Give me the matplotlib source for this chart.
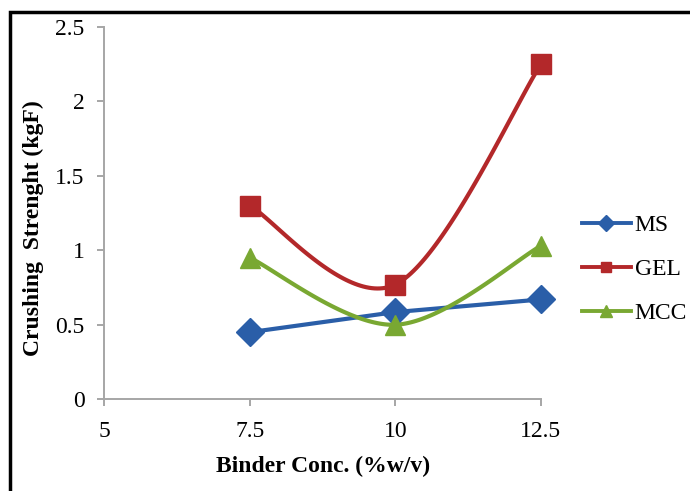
import numpy as np
import matplotlib
matplotlib.use("Agg")
import matplotlib.pyplot as plt
from matplotlib.patches import Rectangle

x_vals = [7.5, 10, 12.5]
ms = [0.45, 0.585, 0.67]
gel = [1.30, 0.77, 2.25]
mcc = [0.95, 0.50, 1.03]
x_ticks = [5, 7.5, 10, 12.5]
y_ticks = [0, 0.5, 1, 1.5, 2, 2.5]

plt.rcParams['font.family'] = ['Liberation Serif', 'DejaVu Serif']


def smooth(xs, ys, n=60):
    # Catmull-Rom style bezier like Excel smoothed lines
    xs = np.asarray(xs, float)
    ys = np.asarray(ys, float)
    px = np.concatenate([[xs[0]], xs, [xs[-1]]])
    py = np.concatenate([[ys[0]], ys, [ys[-1]]])
    ox, oy = [], []
    for i in range(1, len(px) - 2):
        p0 = np.array([px[i - 1], py[i - 1]])
        p1 = np.array([px[i], py[i]])
        p2 = np.array([px[i + 1], py[i + 1]])
        p3 = np.array([px[i + 2], py[i + 2]])
        c1 = p1 + (p2 - p0) / 6
        c2 = p2 - (p3 - p1) / 6
        t = np.linspace(0, 1, n)[:, None]
        b = ((1 - t) ** 3) * p1 + 3 * ((1 - t) ** 2) * t * c1 + 3 * (1 - t) * t ** 2 * c2 + t ** 3 * p2
        ox.extend(b[:, 0]); oy.extend(b[:, 1])
    return ox, oy


fig = plt.figure(figsize=(6.9, 4.91), dpi=100)
ax = fig.add_axes([0.151, 0.187, 0.633, 0.758])

series = [("MS", ms, "#2a5ea8", "D", 14, False),
          ("GEL", gel, "#b3282a", "s", 14, True),
          ("MCC", mcc, "#79a832", "^", 15, True)]
for name, ys, col, mk, ms_, sm in series:
    if sm:
        sx, sy = smooth(x_vals, ys)
    else:
        sx, sy = x_vals, ys
    ax.plot(sx, sy, color=col, lw=3.0, zorder=2, clip_on=False)
    ax.plot(x_vals, ys, linestyle='none', marker=mk, markersize=ms_, color=col, zorder=3, clip_on=False)
    ax.plot([], [], color=col, lw=2.8, marker=mk, markersize=ms_ * 0.55, label=name)

ax.set_xlim(5, 12.5)
ax.set_ylim(0, 2.5)
ax.set_xticks(x_ticks)
ax.set_xticklabels(['5', '7.5', '10', '12.5'])
ax.set_yticks(y_ticks)
ax.set_yticklabels(['0', '0.5', '1', '1.5', '2', '2.5'])
for s in ['top', 'right']:
    ax.spines[s].set_visible(False)
for s in ['left', 'bottom']:
    ax.spines[s].set_color('#a6a6a6')
    ax.spines[s].set_linewidth(1.4)
ax.tick_params(axis='both', colors='#a6a6a6', labelcolor='black', labelsize=17, length=5, width=1.4)
ax.tick_params(axis='x', pad=11)
ax.tick_params(axis='y', pad=9)
ax.set_xlabel('Binder Conc. (%w/v)', fontsize=17, fontweight='bold', va='center')
ax.set_ylabel('Crushing  Strenght (kgF)', fontsize=17, fontweight='bold', va='center')
ax.xaxis.set_label_coords(0.50, -0.18)
ax.yaxis.set_label_coords(-0.163, 0.46)

leg = fig.legend(loc='center left', bbox_to_anchor=(0.843, 0.452), frameon=False,
                 fontsize=17, handlelength=2.1, handletextpad=0.15, labelspacing=0.95,
                 borderaxespad=0.0, borderpad=0.0)

fig.patches.append(Rectangle((0.014, -0.01), 1.0, 0.985, transform=fig.transFigure,
                             fill=False, edgecolor='black', linewidth=2.5, zorder=10))

fig.savefig('out.png', dpi=100)
